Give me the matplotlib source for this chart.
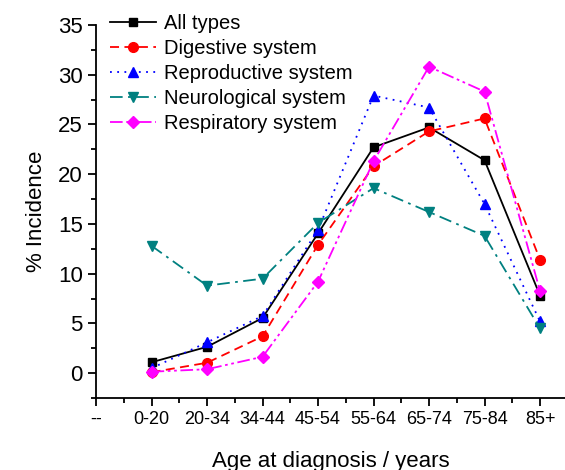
import matplotlib
matplotlib.use("Agg")
import matplotlib.pyplot as plt
from matplotlib.ticker import MultipleLocator

plt.rcParams['font.family'] = ['Liberation Sans', 'DejaVu Sans']

categories = ["--", "0-20", "20-34", "34-44", "45-54", "55-64", "65-74", "75-84", "85+"]
ages = ["0-20", "20-34", "34-44", "45-54", "55-64", "65-74", "75-84", "85+"]
all_types = [1.1, 2.65, 5.55, 14.05, 22.7, 24.7, 21.4, 7.8]
digestive = [0.1, 1.05, 3.7, 12.9, 20.8, 24.3, 25.6, 11.4]
reproductive = [0.5, 3.1, 5.75, 14.4, 27.9, 26.7, 17.0, 5.2]
neurological = [12.8, 8.8, 9.5, 15.1, 18.6, 16.2, 13.8, 4.5]
respiratory = [0.15, 0.4, 1.65, 9.2, 21.3, 30.8, 28.3, 8.25]

fig = plt.figure(figsize=(5.65, 4.7), dpi=100)
ax = fig.add_axes([0.170, 0.153, 0.830, 0.794])

x = list(range(1, len(ages) + 1))
ax.plot(x, all_types, color='black', ls='-', lw=1.3, marker='s', ms=6, label='All types')
ax.plot(x, digestive, color='red', ls=(0, (5, 3)), lw=1.3, marker='o', ms=7, label='Digestive system')
ax.plot(x, reproductive, color='blue', ls=(0, (1, 3)), lw=1.3, marker='^', ms=7, label='Reproductive system')
ax.plot(x, neurological, color='#008080', ls=(0, (7, 3, 1.5, 3)), lw=1.3, marker='v', ms=7, label='Neurological system')
ax.plot(x, respiratory, color='magenta', ls=(0, (7, 2, 1.5, 2, 1.5, 2)), lw=1.3, marker='D', ms=6, label='Respiratory system')

ax.set_xlim(0, 8.45)
ax.set_ylim(-2.5, 35)
ax.set_xticks(range(len(categories)))
ax.set_xticklabels(categories, fontsize=13)
ax.xaxis.set_minor_locator(MultipleLocator(0.5))
ax.yaxis.set_major_locator(MultipleLocator(5))
ax.yaxis.set_minor_locator(MultipleLocator(2.5))
ax.tick_params(axis='y', labelsize=16)
ax.tick_params(which='major', direction='out', length=6, width=1.3)
ax.tick_params(which='minor', direction='out', length=3.5, width=1.3)
for s in ['top', 'right']:
    ax.spines[s].set_visible(False)
for s in ['left', 'bottom']:
    ax.spines[s].set_linewidth(1.3)

ax.set_ylabel('% Incidence', fontsize=16, labelpad=8)
ax.set_xlabel('Age at diagnosis / years', fontsize=16, labelpad=16)

ax.legend(loc='upper left', bbox_to_anchor=(0.012, 1.05), frameon=False, fontsize=14.5,
          handlelength=2.3, handletextpad=0.4, labelspacing=0.3, borderaxespad=0)

fig.savefig('out.png', dpi=100)
